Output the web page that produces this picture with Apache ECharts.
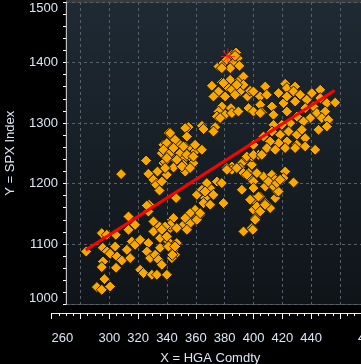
<!DOCTYPE html>
<html>
<head>
<meta charset="utf-8">
<script src="https://cdn.jsdelivr.net/npm/echarts@6/dist/echarts.min.js"></script>
<style>html,body{margin:0;padding:0;background:#000;}#c{width:361px;height:364px;}</style>
</head>
<body>
<div id="c"></div>
<script>
// HGA Comdty (x) values
const hga = [
284,294.8,298.3,304.5,295.5,298.5,300.6,304.1,305.4,308.7,304.7,295.7,294.8,313.3,313.3,317.9,315.6,317.9,312.2,314.5,
321.4,327.1,326,328.3,331.8,334.1,335.2,321.4,323.7,329.5,333,339.9,331.3,330.6,335.2,337.5,342.2,343.4,335.2,341,
344.5,345.6,343.4,327.6,327.1,291.4,296.6,294.8,300.6,330.6,334.8,
325.5,308.2,327.1,333.4,330.6,332.5,334.8,336.4,337.5,326,337.5,340,341,
375.7,379.1,381.5,385,387.9,389.1,386.1,390.2,383.8,378,387.2,
371.1,378,383.8,390.7,393,381.5,375.7,372.2,380.3,385,390.7,387.2,395.8,397.6,393,388.4,379.1,
378,384.3,375.7,380.3,385,389.5,374.6,376.8,396.5,399.9,
354.9,352.6,364.2,365.3,373.4,372.2,353.8,342.2,339.9,344.5,347.9,352.6,357.2,359.5,364.2,337.5,342.2,349.1,345.6,352.6,356,338.7,351.4,358.3,
385,391.9,395.3,398.8,
344.5,339.9,336.4,352.6,338.7,381.5,385,390.7,393,396.5,397.6,391.9,398.8,399.9,393,398.8,
346.3,360.7,364.2,366.4,369.9,372.2,374.6,378,367.6,365.3,369.9,379.1,359.5,363,359.5,353.8,351.4,356,344.5,342.2,346.8,338.7,336.4,339.9,346.8,344.5,341,345.6,343.7,336.4,339.9,
408.1,399.9,404.6,409.2,417.3,421.9,423.1,428.8,427.7,404.6,405.7,412.7,413.8,420.7,423.1,428.8,432.3,436.9,440.4,446.2,
435.8,441.5,446.2,450.8,456.6,443.9,449.6,447.3,451.9,450.8,445,439.2,434.6,430,425.4,419.6,413.8,412.7,418.4,424.2,
430,433.5,435.8,430,423.1,417.3,411.5,406.9,409.2,415,421.9,428.8,435.8,442.7,399.9,403.4,398.8,
406.9,412.7,415,421.9,420.7,427.7,408.1,399.9,
399.9,404.6,399.9,408.1,402.3,411.5,401.1,398.8,415,416.1,
342.2,345.6,344.5,339.9,346.8,
399.5,401.1,397.6,403.4,408,404.6,413.8,417.3,410.3,416.1,418.4,366.4,356,352.6,353.8,360.7,363,
381.5,388.4,395.3,399.9,405.7,395.3,402.3,351.4,359.5,353.8,358.3,350.3,356,379.1,423.1,404.6
];
// SPX Index (y) values
const spx = [
1087.6,1118,1115.2,1115.2,1093.7,1087.6,1083.8,1095.9,1079.3,1072.7,1060.7,1071.1,1061.8,1145.5,1123.5,1131.7,1104.1,1098.7,1090.4,1076.7,
1106.9,1101.5,1087.6,1076.7,1082.2,1073.9,1093.7,1057.4,1051.9,1049.1,1049.1,1049.1,1135.5,1120.7,1128.9,1118,1126.3,1140,1109.8,1104.1,
1095.9,1082.2,1076.7,1164.8,1153.7,1028.8,1042,1024.3,1029.8,1137.2,1128.9,
1238,1215.5,1216,1219.8,1206.1,1197.8,1188.4,1250.2,1233.7,1163.6,1264,1242,1283.3,
1393.4,1399,1404.5,1412.7,1416.5,1407.3,1399,1394.5,1390.7,1390.7,1411,
1361.5,1366.9,1371.4,1371.4,1376.9,1360.3,1352.1,1343.8,1343.8,1354.9,1352.1,1346.6,1343.8,1353.2,1363.1,1363.1,1366,
1327.3,1324.6,1319,1313.6,1316.4,1319,1310.7,1308.1,1324.6,1319,
1293.2,1291.6,1295.4,1289.9,1293.2,1285.9,1277.7,1280.5,1266.8,1261.2,1266.8,1261.2,1258.5,1252.9,1255.7,1255.7,1250.2,1250.2,1239.2,1242,1244.6,1236.4,1230.9,1233.7,
1228.1,1233.7,1242,1230.9,
1226.4,1214.4,1203.3,1219.8,1225.5,1225.5,1222.6,1225.5,1217.2,1217.2,1208.9,1189.6,1173.1,1156.5,1120.7,1126.3,
1175.9,1181.3,1189.6,1175.9,1192.4,1181.3,1203.3,1200.7,1200.7,1167.6,1164.8,1167.6,1156.5,1148.3,1140,1142.8,1131.7,1134.5,1142.8,1131.7,1126.3,1128.9,1123.5,1112.4,1101.5,1090.4,1095.9,1095.9,1082.1,1065.6,1049.1,
1360.3,1352.1,1343.8,1346.6,1349.4,1364.8,1357.7,1360.3,1352.1,1330.1,1317.4,1327.3,1313.6,1332.9,1319,1335.5,1346.6,1338.3,1349.4,1354.9,
1324.6,1327.3,1341.2,1332.9,1333.9,1316.4,1319,1308.1,1305.3,1294.2,1288.8,1308.1,1302.5,1310.7,1299.8,1297,1297,1286,1280.5,1286,
1280.5,1288.8,1275,1264,1269.4,1266.8,1269.4,1277.7,1258.5,1255.7,1258.5,1258.5,1261.2,1255.7,1264,1247.4,1244.6,
1211.6,1214.4,1206.1,1219.8,1208.9,1201.7,1195,1203.3,
1192.4,1178.5,1173.1,1167.6,1162,1159.3,1142.8,1126.3,1175.9,1186.8,
1283.3,1272.2,1258.5,1242,1239.2,
1123.4,1140,1173.1,1178.5,1164.8,1153.7,1195,1186.8,1203.3,1200.7,1206.1,1186.8,1151,1142.8,1123.5,1140,1151,
1222.6,1225.5,1244.6,1247.4,1247.4,1214.4,1217.2,1261.2,1264,1247.4,1244.6,1228.1,1225.5,1366,1343.8,1316.4
];
// regression line end points
const fitX = [283.7, 456.1];
const fitY = [1090, 1353.7];
// latest observation (red star)
const lastX = [382.2];
const lastY = [1409.9];
// x tick labels shown
const xLabels = [260, 300, 320, 340, 360, 380, 400, 420, 440, 480];

const font = 'Liberation Sans';
const labelColor = '#dbe7f7';
const chart = echarts.init(document.getElementById('c'), null, {renderer: 'canvas'});
const pts = hga.map((x, i) => [x, spx[i]]);
const star = 'path://M9.3 0 L10.7 0 L10.7 20 L9.3 20 Z M0 9.3 L20 9.3 L20 10.7 L0 10.7 Z M2.2 3.2 L3.2 2.2 L17.8 16.8 L16.8 17.8 Z M16.8 2.2 L17.8 3.2 L3.2 17.8 L2.2 16.8 Z';

chart.setOption({
  backgroundColor: '#000',
  animation: false,
  graphic: [{type: 'rect', shape: {x: 66, y: 0, width: 300, height: 2}, style: {fill: '#3a3a3a'}, silent: true}],
  grid: [
    {left: 66, top: 2, width: 303, height: 302.5, show: true, outerBoundsMode: 'none', containLabel: false,
     backgroundColor: {type: 'linear', x: 0, y: 0, x2: 0, y2: 1,
       colorStops: [{offset: 0, color: '#1f2a34'}, {offset: 1, color: '#0f1418'}]},
     borderColor: '#4a4a4a', borderWidth: 1},
    {left: 51.6, top: 312, width: 317.3, height: 1, outerBoundsMode: 'none', containLabel: false}
  ],
  xAxis: [
    {gridIndex: 0, type: 'value', min: 270, max: 480, splitNumber: 10,
     axisLine: {show: false}, axisTick: {show: false}, axisLabel: {show: false},
     splitLine: {show: true, lineStyle: {color: '#55606a', width: 1, type: [3, 3]}}},
    {gridIndex: 1, type: 'value', min: 260, max: 480, interval: 20, position: 'bottom',
     axisLine: {show: true, lineStyle: {color: '#e8e8e8', width: 1}},
     axisTick: {show: true, length: 6, inside: false, lineStyle: {color: '#ffffff'}},
     minorTick: {show: true, splitNumber: 4, length: 3, lineStyle: {color: '#ffffff'}},
     splitLine: {show: false},
     axisLabel: {show: true, margin: 19, color: labelColor, fontFamily: font, fontSize: 13,
       showMinLabel: true, showMaxLabel: true, alignMinLabel: 'left',
       formatter: v => (xLabels.indexOf(v) >= 0 ? String(v) : '')},
     name: 'X = HGA Comdty', nameLocation: 'middle', nameGap: 39, nameMoveOverlap: false,
     nameTextStyle: {color: labelColor, fontFamily: font, fontSize: 13}}
  ],
  yAxis: [
    {gridIndex: 0, type: 'value', min: 1000, max: 1500, interval: 100,
     axisLine: {show: true, lineStyle: {color: '#bdbdbd', width: 1}},
     axisTick: {show: true, length: 3, inside: false, lineStyle: {color: '#ffffff'}},
     minorTick: {show: true, splitNumber: 5, length: 3, lineStyle: {color: '#ffffff'}},
     axisLabel: {show: true, margin: 8, color: labelColor, fontFamily: font, fontSize: 13,
       formatter: v => String(v),
       verticalAlignMinLabel: 'bottom', verticalAlignMaxLabel: 'top'},
     splitLine: {show: true, lineStyle: {color: '#55606a', width: 1, type: [3, 3]}},
     name: 'Y = SPX Index', nameLocation: 'middle', nameGap: 49, nameMoveOverlap: false,
     nameTextStyle: {color: labelColor, fontFamily: font, fontSize: 13, lineHeight: 13}},
    {gridIndex: 1, type: 'value', min: 0, max: 1, show: false}
  ],
  series: [
    {type: 'scatter', xAxisIndex: 0, yAxisIndex: 0, data: pts, symbol: 'diamond', symbolSize: 11,
     itemStyle: {color: '#f7a900', borderColor: '#1c1400', borderWidth: 1, opacity: 1}, z: 3},
    {type: 'line', xAxisIndex: 0, yAxisIndex: 0, data: fitX.map((x, i) => [x, fitY[i]]),
     showSymbol: false, symbol: 'none', lineStyle: {color: '#ff0000', width: 3}, z: 4},
    {type: 'scatter', xAxisIndex: 0, yAxisIndex: 0, data: lastX.map((x, i) => [x, lastY[i]]),
     symbol: star, symbolSize: [14, 16], itemStyle: {color: '#ff1a1a'}, z: 5}
  ]
});
</script>
</body>
</html>
